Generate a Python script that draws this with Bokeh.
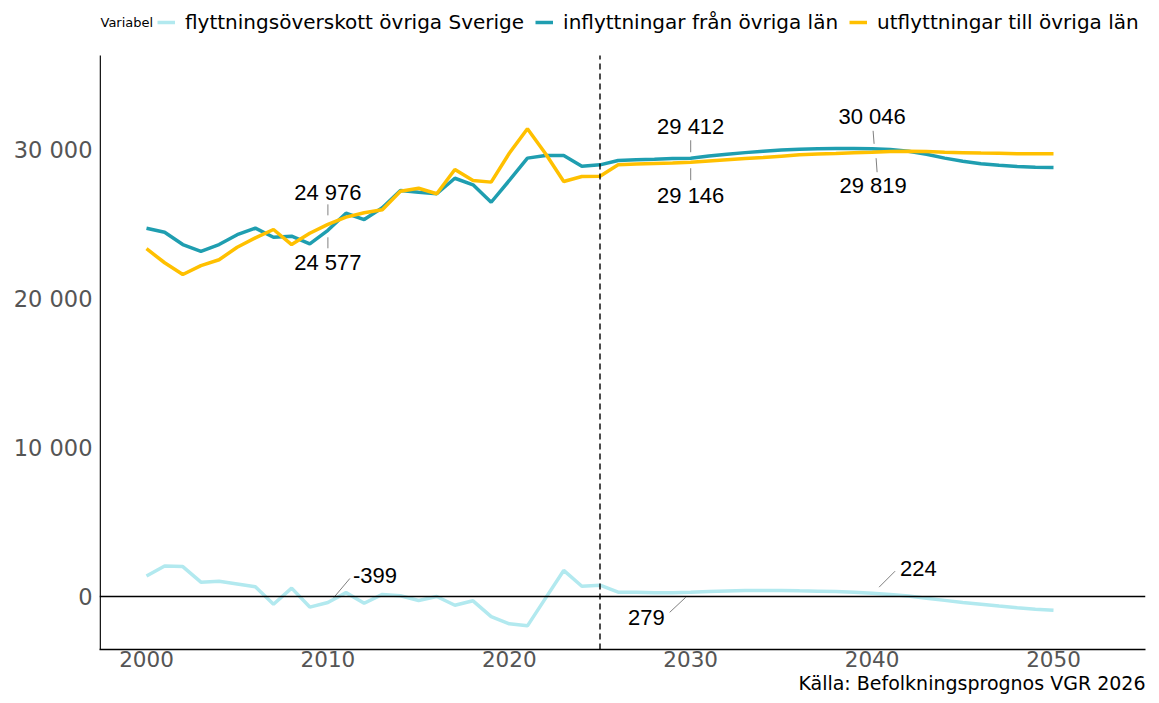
from bokeh.plotting import figure
from bokeh.models import Span, Label, Legend, LegendItem, FixedTicker, Range1d, Title
from bokeh.embed import file_html
from bokeh.resources import INLINE

# ---------------- data ----------------
years = list(range(2000, 2051))

inflyttningar = [
    24720, 24450, 23620, 23170, 23620, 24280, 24720, 24110, 24180, 23670,
    24577, 25720, 25300, 26090, 27250, 27130, 27030, 28070, 27630, 26460,
    27920, 29420, 29600, 29600, 28880,
    28970, 29260, 29320, 29350, 29390, 29412, 29560, 29680, 29790, 29890,
    29960, 30020, 30050, 30070, 30070, 30046, 30000, 29880, 29680, 29420,
    29210, 29050, 28940, 28860, 28810, 28790,
]
utflyttningar = [
    23340, 22400, 21610, 22210, 22600, 23440, 24070, 24630, 23620, 24380,
    24976, 25460, 25750, 25950, 27200, 27400, 27030, 28660, 27920, 27810,
    29750, 31390, 29710, 27850, 28190,
    28210, 28970, 29020, 29060, 29100, 29146, 29230, 29310, 29390, 29460,
    29550, 29640, 29690, 29730, 29780, 29819, 29860, 29880, 29860, 29820,
    29790, 29760, 29740, 29720, 29710, 29710,
]
overskott = [
    1380, 2050, 2010, 960, 1020, 840, 650, -520, 560, -710,
    -399, 260, -450, 140, 50, -270, 0, -590, -290, -1350,
    -1830, -1970, -110, 1750, 690,
    760, 290, 280, 250, 260, 279, 330, 370, 400, 410,
    410, 380, 360, 340, 290, 224, 140, 30, -120, -260,
    -400, -520, -640, -750, -850, -920,
]
series_names = ["flyttningsöverskott övriga Sverige",
                "inflyttningar från övriga län",
                "utflyttningar till övriga län"]
x_ticks = [2000, 2010, 2020, 2030, 2040, 2050]
y_ticks = [0, 10000, 20000, 30000]
forecast_start = 2025
legend_title = "Variabel"
source_text = "Källa: Befolkningsprognos VGR 2026"

# annotated points: (series, year)
annotated = [("ut", 2010), ("in", 2010), ("in", 2030), ("ut", 2030),
             ("in", 2040), ("ut", 2040), ("net", 2010), ("net", 2030), ("net", 2040)]

# ---------------- styles / layout ----------------
C_NET = "#b2e9ef"
C_IN = "#1f9eb0"
C_UT = "#ffc000"
TICK_FONT = "DejaVu Sans"
ANN_FONT = "Liberation Sans"

W, H = 1151, 695
ML, MR, MT, MB = 99, 6, 0, 46
FW, FH = W - ML - MR, H - MT - MB
PPX = 18.14            # px per year
PPY = 14.9 / 1000.0    # px per person
ZERO_PX = 596          # canvas y of value 0
AXIS_TOP_PX = 55       # canvas y where the visible y axis starts
X0 = 2000 - 47 / PPX
X1 = X0 + FW / PPX
Y0 = -(FH - ZERO_PX) / PPY
Y1 = ZERO_PX / PPY
Y_AXIS_TOP = (ZERO_PX - AXIS_TOP_PX) / PPY

def fmt(v):
    return f"{v:,}".replace(",", " ")

p = figure(width=W, height=H, output_backend="svg", toolbar_location=None,
           x_range=Range1d(X0, X1), y_range=Range1d(Y0, Y1),
           min_border_left=ML, min_border_right=MR,
           min_border_top=MT, min_border_bottom=MB)
p.outline_line_color = None
p.xgrid.grid_line_color = None
p.ygrid.grid_line_color = None
p.background_fill_color = "white"

for ax in (p.xaxis[0], p.yaxis[0]):
    ax.axis_line_color = "black"
    ax.axis_line_width = 1.4
    ax.major_tick_line_color = None
    ax.minor_tick_line_color = None
    ax.major_tick_out = 0
    ax.major_tick_in = 0
    ax.major_label_text_font = TICK_FONT
    ax.major_label_text_color = "#555555"

p.xaxis.major_label_text_font_size = "21.5px"
p.yaxis.major_label_text_font_size = "22.5px"
p.xaxis.ticker = FixedTicker(ticks=x_ticks)
p.xaxis.major_label_overrides = {t: str(t) for t in x_ticks}
p.xaxis.major_label_standoff = 1
p.yaxis.ticker = FixedTicker(ticks=y_ticks)
p.yaxis.major_label_overrides = {t: fmt(t) for t in y_ticks}
p.yaxis.major_label_standoff = 7
p.yaxis.axis_line_color = None

p.add_layout(Title(text=source_text, align="right", standoff=0,
                   text_font=TICK_FONT, text_font_size="19px",
                   text_font_style="normal", text_color="black"), "below")

# visible y-axis line (frame extends above it to hold the legend)
p.segment([X0 + 0.7 / PPX], [Y0], [X0 + 0.7 / PPX], [Y_AXIS_TOP],
          line_color="black", line_width=1.4)

r_net = p.line(years, overskott, line_color=C_NET, line_width=3.5)
r_in = p.line(years, inflyttningar, line_color=C_IN, line_width=3.5)
r_ut = p.line(years, utflyttningar, line_color=C_UT, line_width=3.5)

p.add_layout(Span(location=0, dimension="width", line_color="black", line_width=1.4))
p.segment([forecast_start], [Y0], [forecast_start], [Y_AXIS_TOP],
          line_color="black", line_width=1.4, line_dash="6 4")

# annotations
data = {"in": inflyttningar, "ut": utflyttningar, "net": overskott}
# text offset (dx, dy) screen px (y down), alignment, leader (x1, y1, x2, y2)
ann_style = [
    (0, -32, "center", (0, -9, 0, -20)),
    (0, 32, "center", (0, 7, 0, 18)),
    (0, -32, "center", (0, -6, 0, -18)),
    (0, 33, "center", (0, 6, 0, 18)),
    (0, -32, "center", (2, -5, 1, -18)),
    (1, 33, "center", (4, 6, 5, 20)),
    (25, -27, "left", (6, -5, 22, -24)),
    (-26, 25, "right", (-5, 5, -21, 20)),
    (28, -25, "left", (7, -6, 23, -22)),
]
x0s, y0s, x1s, y1s = [], [], [], []
for (ser, yr), (dx, dy, al, (lx1, ly1, lx2, ly2)) in zip(annotated, ann_style):
    v = data[ser][years.index(yr)]
    p.add_layout(Label(x=yr, y=v, x_offset=dx, y_offset=-dy, text=fmt(v),
                       text_align=al, text_baseline="middle",
                       text_font=ANN_FONT, text_font_size="22px", text_color="black"))
    x0s.append(yr + lx1 / PPX); y0s.append(v - ly1 / PPY)
    x1s.append(yr + lx2 / PPX); y1s.append(v - ly2 / PPY)
p.segment(x0s, y0s, x1s, y1s, line_color="#808080", line_width=1)

# legend (inside the frame, which reaches the top of the canvas)
legend = Legend(items=[LegendItem(label=series_names[0], renderers=[r_net]),
                       LegendItem(label=series_names[1], renderers=[r_in]),
                       LegendItem(label=series_names[2], renderers=[r_ut])],
                orientation="horizontal", location=(58, FH - 34),
                label_text_font=TICK_FONT, label_text_font_size="20px",
                label_text_color="black", glyph_width=18, glyph_height=20,
                label_height=20, label_standoff=10, spacing=11, padding=0, margin=0,
                border_line_color=None, background_fill_alpha=0)
p.add_layout(legend)
p.add_layout(Label(x=1, y=FH - 22, x_units="screen", y_units="screen", text=legend_title,
                   text_font=TICK_FONT, text_font_size="13px", text_color="black",
                   text_baseline="middle", text_align="left"))

open("out.html", "w").write(file_html(p, INLINE))
